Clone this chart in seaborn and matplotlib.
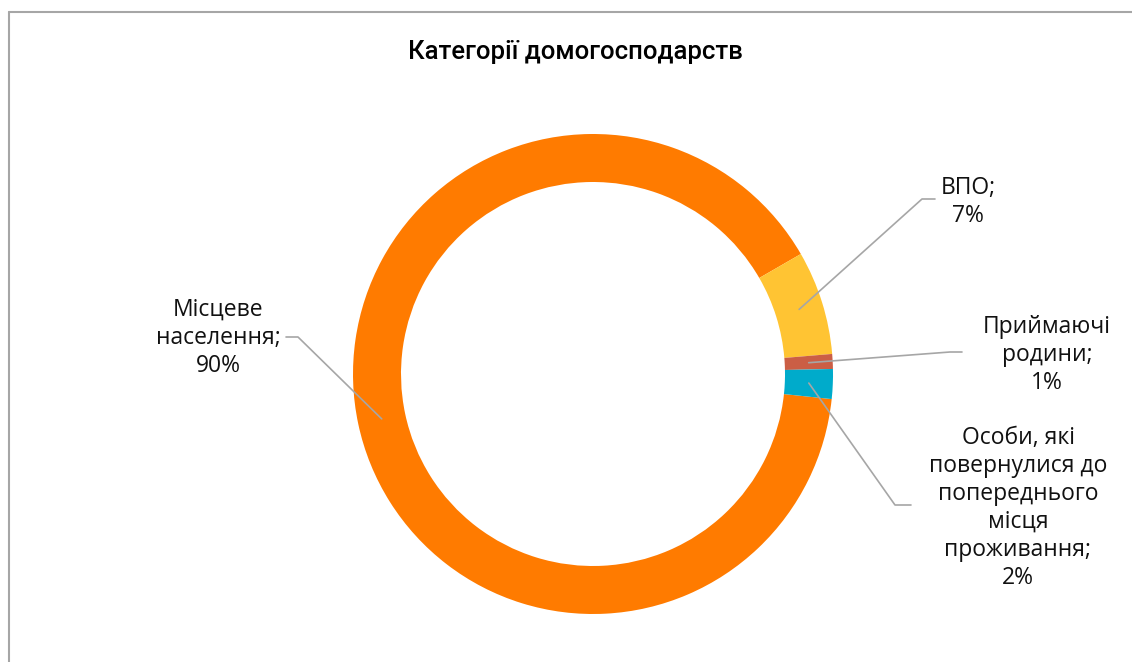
import matplotlib
matplotlib.use("Agg")
from matplotlib import pyplot as plt
from matplotlib.lines import Line2D
import seaborn as sns
import numpy as np

# data
categories = ["Місцеве\nнаселення", "ВПО", "Приймаючі\nродини",
              "Особи, які\nповернулися до\nпопереднього\nмісця\nпроживання"]
shares = [90, 7, 1, 2]
colors = ["#FF7B00", "#FFC433", "#CB5E45", "#00ABCB"]
title = "Категорії домогосподарств"

sns.set_theme(style="white")
plt.rcParams['font.family'] = ['Open Sans', 'Liberation Sans', 'DejaVu Sans']

W, H = 1132, 662
fig = plt.figure(figsize=(W / 100, H / 100), dpi=100)
fig.patch.set_facecolor("white")

# donut centre / radius in pixels
cx, cy, R = 593, 374, 240
ax = fig.add_axes([(cx - R) / W, (H - cy - R) / H, 2 * R / W, 2 * R / H])
wedges, _ = ax.pie(shares, colors=sns.color_palette(colors), startangle=-6,
                   counterclock=False, radius=1.0,
                   wedgeprops=dict(width=0.2, edgecolor="none"))
ax.set_xlim(-1, 1)
ax.set_ylim(-1, 1)
ax.set_aspect("equal")
ax.axis("off")

def px(x, y):
    return ((x - cx) / R, (cy - y) / R)

# label positions (pixels): text centre, elbow, end of horizontal segment
layout = [
    ((218, 338), (298, 337), (286, 337)),
    ((968, 202), (922, 199), (935, 199)),
    ((1047, 355), (950, 352), (962, 352)),
    ((1018, 508), (895, 505), (911, 505)),
]

for w, cat, val, (tp, ep, hp) in zip(wedges, categories, shares, layout):
    mid = np.deg2rad((w.theta1 + w.theta2) / 2)
    ax0 = (0.9 * np.cos(mid), 0.9 * np.sin(mid))
    e = px(*ep)
    h = px(*hp)
    ax.add_line(Line2D([ax0[0], e[0], h[0]], [ax0[1], e[1], h[1]],
                       color="#A6A6A6", lw=1.2, clip_on=False, zorder=3))
    t = px(*tp)
    ax.text(t[0], t[1], f"{cat};\n{val}%", ha="center", va="center",
            multialignment="center", fontsize=16.5, color="#111111",
            linespacing=1.22, clip_on=False)

fig.text(575 / W, 1 - 52 / H, title, ha="center", va="center", fontsize=18.5,
         family=['Roboto', 'Liberation Sans', 'DejaVu Sans'], fontweight="medium",
         color="black")

# chart frame
fig.add_artist(Line2D([9 / W, 9 / W], [0, 1 - 12 / H], transform=fig.transFigure,
                      color="#A6A6A6", lw=1.5))
fig.add_artist(Line2D([9 / W, 1], [1 - 12 / H, 1 - 12 / H], transform=fig.transFigure,
                      color="#A6A6A6", lw=1.5))

fig.savefig("out.png", dpi=100)
